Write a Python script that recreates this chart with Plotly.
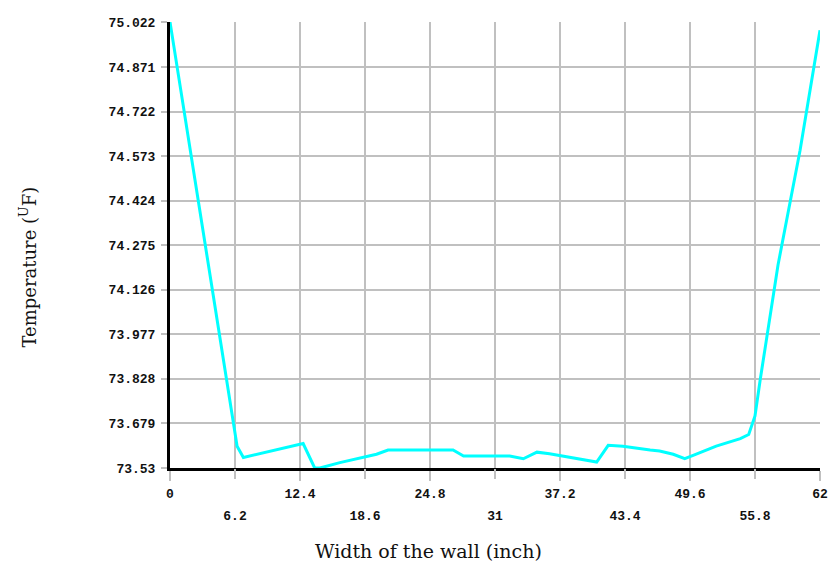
import plotly.graph_objects as go

# Data
width_in = [0, 6.4, 7.0, 12.7, 13.8, 14.3, 16.2, 19.7, 20.8, 27.0, 28.0, 32.4, 33.7, 35.0, 36.2,
            40.7, 41.8, 43.2, 45.8, 46.7, 48.0, 49.1, 49.9, 52.1, 54.4, 55.2, 55.8, 56.3, 58.0, 60.1, 62.0]
temp_f = [75.022, 73.603, 73.565, 73.612, 73.530, 73.530, 73.548, 73.576, 73.590, 73.590, 73.570,
          73.570, 73.561, 73.583, 73.578, 73.550, 73.606, 73.603, 73.590, 73.587, 73.576, 73.561,
          73.572, 73.603, 73.628, 73.642, 73.704, 73.826, 74.210, 74.593, 74.994]

x_tick_vals = [0, 6.2, 12.4, 18.6, 24.8, 31, 37.2, 43.4, 49.6, 55.8, 62]
x_tick_text = ["0", "6.2", "12.4", "18.6", "24.8", "31", "37.2", "43.4", "49.6", "55.8", "62"]
y_tick_text = ["73.53", "73.679", "73.828", "73.977", "74.126", "74.275",
               "74.424", "74.573", "74.722", "74.871", "75.022"]
y_tick_vals = [float(t) for t in y_tick_text]

# staggered x labels: first row on xaxis, second row on an overlaying axis
row1_vals = x_tick_vals[0::2]
row1_text = x_tick_text[0::2]
row2_vals = x_tick_vals[1::2]
row2_text = x_tick_text[1::2]

fig = go.Figure()
# invisible helper trace so the second-row axis is drawn
fig.add_trace(go.Scatter(x=[0, 62], y=[73.53, 73.53], xaxis="x2", mode="lines",
                         line=dict(width=0), hoverinfo="skip", showlegend=False))
fig.add_trace(go.Scatter(
    x=width_in, y=temp_f, mode="lines",
    line=dict(color="#00ffff", width=3),
    cliponaxis=False, hoverinfo="skip", showlegend=False,
))

tick_font = dict(family="Liberation Mono, DejaVu Sans Mono, monospace", size=13, color="#111111",
                 weight="bold")

common_x = dict(range=[0, 62], zeroline=False, fixedrange=True, tickfont=tick_font,
                showgrid=True, gridcolor="#c0c0c0", gridwidth=2,
                ticks="outside", ticklen=10, tickcolor="#c0c0c0", tickwidth=2)

fig.update_layout(
    width=839, height=567,
    margin=dict(l=170, r=19, t=22, b=99),
    paper_bgcolor="white", plot_bgcolor="white",
    xaxis=dict(
        tickmode="array", tickvals=row1_vals, ticktext=row1_text,
        showline=True, linecolor="black", linewidth=3, layer="below traces",
        ticklabelstandoff=1,
        **common_x,
    ),
    xaxis2=dict(
        overlaying="x", side="bottom", anchor="y", matches="x",
        tickmode="array", tickvals=row2_vals, ticktext=row2_text,
        showline=False, ticklabelstandoff=25, layer="below traces",
        **common_x,
    ),
    yaxis=dict(
        range=[73.53, 75.022], tickmode="array", tickvals=y_tick_vals, ticktext=y_tick_text,
        showgrid=True, gridcolor="#c0c0c0", gridwidth=2,
        showline=True, linecolor="black", linewidth=3, layer="below traces",
        ticks="outside", ticklen=6, tickcolor="#c0c0c0", tickwidth=2,
        ticklabelstandoff=3,
        tickfont=tick_font, zeroline=False, fixedrange=True,
    ),
    annotations=[
        dict(text="Width of the wall (inch)", xref="paper", yref="paper",
             x=0.397, y=-0.186, xanchor="center", yanchor="middle", showarrow=False,
             font=dict(family="DejaVu Serif, Liberation Serif, serif", size=19, color="#111111")),
        dict(text="Temperature (<sup>U</sup>F)", xref="paper", yref="paper",
             x=-0.218, y=0.45, xanchor="center", yanchor="middle", textangle=-90, showarrow=False,
             font=dict(family="DejaVu Serif, Liberation Serif, serif", size=18, color="#111111")),
    ],
)

fig.write_html("out.html")
